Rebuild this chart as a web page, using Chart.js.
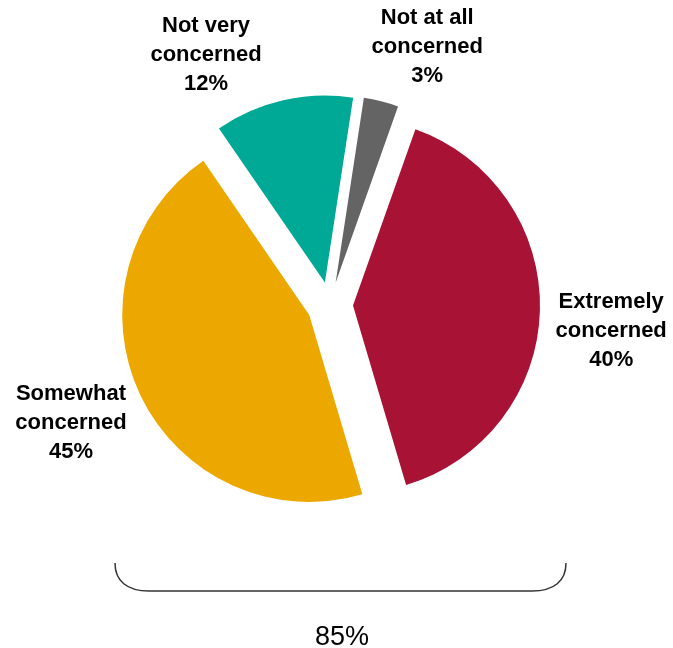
<!DOCTYPE html>
<html>
<head>
<meta charset="utf-8">
<script src="https://cdn.jsdelivr.net/npm/chart.js@4/dist/chart.umd.min.js"></script>
<style>
  html, body { margin: 0; padding: 0; background: #fff; }
  #wrap { position: relative; width: 673px; height: 648px; }
</style>
</head>
<body>
<div id="wrap"><canvas id="concernPie"></canvas></div>
<script>
/* Level of concern - exploded pie */
const categories = ["Extremely concerned", "Somewhat concerned", "Not very concerned", "Not at all concerned"];
const shares = [40, 45, 12, 3];
const sliceColors = ["#A81234", "#EDA800", "#00A896", "#646464"];

// how far each slice is pulled out from the centre (px)
const explodeBy = 23;

// label placement around the pie: angle nudge (deg) and distance from centre (px)
const labelNudge = [5, 0, -14, 7];
const labelDist = [283, 287, 274, 270];

// pie whose slices are all pulled outward by the same distance,
// without the radius/angle shrink that the built-in offset applies
class ExplodedPieController extends Chart.PieController {
  draw() {
    const ctx = this.chart.ctx;
    const area = this.chart.chartArea;
    this._cachedMeta.data.forEach(function (arc) {
      const mid = (arc.startAngle + arc.endAngle) / 2;
      ctx.save();
      ctx.translate(Math.cos(mid) * explodeBy, Math.sin(mid) * explodeBy);
      arc.draw(ctx, area);
      ctx.restore();
    });
  }
}
ExplodedPieController.id = "explodedPie";
ExplodedPieController.defaults = Chart.PieController.defaults;
Chart.register(ExplodedPieController);

// label text: "Extremely" / "concerned" / "40%"
function labelLines(i) {
  const words = categories[i].split(" ");
  const last = words.pop();
  return [words.join(" "), last, shares[i] + "%"];
}

const sliceLabels = {
  id: "sliceLabels",
  afterDatasetsDraw(chart) {
    const ctx = chart.ctx;
    const arcs = chart.getDatasetMeta(0).data;
    ctx.save();
    ctx.font = "bold 22px 'Liberation Sans', Arial, sans-serif";
    ctx.fillStyle = "#000";
    ctx.textAlign = "center";
    ctx.textBaseline = "alphabetic";
    arcs.forEach(function (arc, i) {
      const mid = (arc.startAngle + arc.endAngle) / 2 + labelNudge[i] * Math.PI / 180;
      const cx = arc.x + labelDist[i] * Math.cos(mid);
      const cy = arc.y + labelDist[i] * Math.sin(mid);
      const lines = labelLines(i);
      lines.forEach(function (t, k) {
        ctx.fillText(t, cx, cy + (k - 1) * 29);
      });
    });
    ctx.restore();
  }
};

// bracket under the two "concerned" slices with their combined share
const totalBrace = {
  id: "totalBrace",
  afterDraw(chart) {
    const ctx = chart.ctx;
    const left = 115, right = 566, top = 563, bottom = 591, r = 34;
    ctx.save();
    ctx.strokeStyle = "#333";
    ctx.lineWidth = 1.5;
    ctx.beginPath();
    ctx.moveTo(left, top);
    ctx.bezierCurveTo(left, top + 18, left + 12, bottom, left + r, bottom);
    ctx.lineTo(right - r, bottom);
    ctx.bezierCurveTo(right - 12, bottom, right, top + 18, right, top);
    ctx.stroke();

    ctx.font = "27px 'Liberation Sans', Arial, sans-serif";
    ctx.fillStyle = "#000";
    ctx.textAlign = "center";
    ctx.textBaseline = "alphabetic";
    ctx.fillText((shares[0] + shares[1]) + "%", 342, 645);
    ctx.restore();
  }
};

const config = {
  type: "explodedPie",
  data: {
    labels: categories,
    datasets: [
      {
        data: shares,
        backgroundColor: sliceColors,
        borderWidth: 0,
      },
    ],
  },
  options: {
    responsive: true,
    maintainAspectRatio: false,
    animation: false,
    rotation: 19.5,
    radius: 187,
    layout: {
      padding: { left: 100, right: 113, top: 100, bottom: 138 },
    },
    plugins: {
      legend: { display: false },
      tooltip: { enabled: false },
    },
  },
  plugins: [sliceLabels, totalBrace],
};

var concernPie = new Chart(document.getElementById("concernPie"), config);
</script>
</body>
</html>
